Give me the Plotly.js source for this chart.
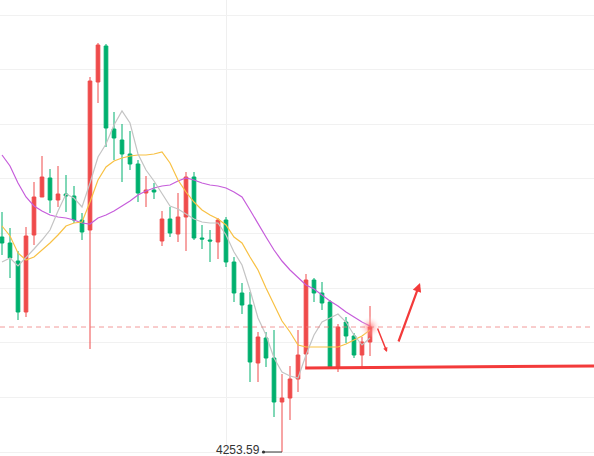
<!DOCTYPE html>
<html>
<head>
<meta charset="utf-8">
<script src="https://cdn.plot.ly/plotly-3.0.1.min.js"></script>
<style>
  html, body { margin: 0; padding: 0; background: #ffffff; }
  #chart { width: 594px; height: 456px; }
</style>
</head>
<body>
<div id="chart"></div>
<script>
// ---- data ----
var idx = [];
for (var k = 0; k < 47; k++) idx.push(k);

var opens  = [4296.59,4295.39,4291.79,4281.59,4296.99,4304.59,4308.39,4303.99,4305.19,4304.79,
              4299.99,4297.99,4327.59,4334.79,4318.19,4315.99,4313.19,4311.19,4305.39,4305.99,
              4295.79,4300.19,4297.19,4300.59,4308.59,4296.39,4295.99,4295.59,4299.99,4291.59,
              4285.39,4282.99,4271.39,4276.39,4272.39,4263.59,4264.39,4268.19,4273.19,4287.99,
              4285.39,4283.59,4270.39,4279.59,4276.79,4272.99,4275.59];
var highs  = [4301.59,4298.39,4293.79,4298.59,4307.59,4312.79,4310.19,4310.79,4308.99,4306.79,
              4301.39,4328.59,4335.39,4335.19,4321.59,4319.19,4317.79,4311.99,4308.79,4307.39,
              4301.79,4302.59,4305.39,4309.59,4309.59,4298.99,4297.99,4300.39,4300.59,4292.59,
              4287.39,4285.59,4277.59,4277.59,4277.99,4269.19,4270.79,4277.99,4289.19,4288.39,
              4287.59,4283.99,4279.19,4280.59,4277.39,4276.59,4282.79];
var lows   = [4292.99,4288.39,4279.99,4280.59,4294.99,4304.59,4301.39,4302.59,4301.59,4299.39,
              4295.99,4274.19,4323.39,4314.59,4311.99,4307.59,4309.99,4303.59,4302.59,4304.19,
              4294.79,4296.59,4295.59,4293.79,4295.99,4294.19,4291.59,4292.19,4290.59,4283.59,
              4281.19,4267.59,4267.59,4270.59,4260.59,4253.59,4259.99,4265.59,4270.59,4283.59,
              4281.99,4270.59,4269.59,4275.39,4272.39,4270.59,4272.79];
var closes = [4295.39,4292.39,4281.59,4296.79,4304.59,4308.59,4303.99,4305.19,4304.79,4299.99,
              4297.59,4327.79,4334.99,4318.39,4316.39,4313.19,4311.19,4305.39,4305.99,4305.59,
              4300.19,4297.39,4300.59,4308.59,4296.39,4296.19,4295.79,4299.99,4291.59,4285.39,
              4282.99,4271.59,4276.59,4272.39,4263.59,4264.39,4268.19,4272.99,4287.99,4285.39,
              4283.39,4270.59,4278.59,4276.79,4272.99,4275.59,4278.59];

var ma5  = [4291.59,4292.39,4290.79,4292.39,4294.19,4295.99,4297.99,4301.79,4305.19,4304.39,
            4302.59,4307.39,4312.59,4315.19,4318.99,4321.79,4319.39,4313.19,4309.99,4307.79,
            4305.19,4302.79,4302.19,4301.19,4300.19,4299.59,4299.39,4299.39,4296.99,4293.59,
            4290.99,4285.99,4280.39,4276.99,4272.39,4269.59,4268.79,4268.39,4272.99,4276.99,
            4279.59,4280.39,4281.19,4279.59,4276.99,4274.99,4276.39];
var ma10 = [4298.79,4296.79,4293.39,4291.99,4292.59,4293.99,4295.39,4296.99,4298.79,4299.39,
            4299.59,4303.59,4307.99,4310.59,4311.79,4312.39,4312.79,4312.99,4312.99,4313.19,
            4313.59,4311.39,4307.99,4305.59,4303.59,4301.99,4300.99,4300.19,4298.99,4296.59,
            4295.39,4292.59,4289.99,4286.39,4282.99,4279.79,4277.59,4274.99,4274.59,4274.59,
            4274.59,4274.59,4274.59,4275.19,4275.99,4276.79,4277.99];
var ma20 = [4312.99,4310.79,4307.39,4304.59,4302.79,4301.79,4300.99,4300.59,4300.39,4299.99,
            4299.39,4299.19,4300.39,4300.99,4301.79,4302.79,4303.79,4304.99,4305.79,4306.39,
            4306.79,4306.99,4307.79,4308.39,4307.99,4307.39,4306.99,4306.79,4306.39,4305.59,
            4304.59,4301.99,4299.19,4296.59,4293.99,4291.79,4289.99,4288.39,4286.99,4286.19,
            4284.99,4283.79,4282.79,4281.59,4280.59,4279.59,4278.79];

var supportLine = {x0: 37.9, x1: 74, y0: 4270.39, y1: 4270.79};
var arrowDown = {fromX: 46.875, fromY: 4278.59, toX: 48.125, toY: 4273.59};
var arrowUp   = {fromX: 49.5,   fromY: 4275.39, toX: 52.25,  toY: 4287.39};

// ---- derived ----
var lastClose = closes[closes.length - 1];
var lowVal = Math.min.apply(null, lows);
var lowIdx = lows.indexOf(lowVal);

var RED = '#ef4b4b', GREEN = '#00b06e';

var traces = [
  {
    type: 'candlestick', x: idx, open: opens, high: highs, low: lows, close: closes,
    increasing: {line: {color: RED, width: 1}, fillcolor: RED},
    decreasing: {line: {color: GREEN, width: 1}, fillcolor: GREEN},
    whiskerwidth: 0, hoverinfo: 'skip', showlegend: false
  },
  {type: 'scatter', mode: 'lines', x: idx, y: ma20, line: {color: '#c65ddb', width: 1.2}, hoverinfo: 'skip', showlegend: false},
  {type: 'scatter', mode: 'lines', x: idx, y: ma10, line: {color: '#f8c144', width: 1.2}, hoverinfo: 'skip', showlegend: false},
  {type: 'scatter', mode: 'lines', x: idx, y: ma5,  line: {color: '#c4c4c4', width: 1.2}, hoverinfo: 'skip', showlegend: false},
  {
    type: 'scatter', mode: 'markers', x: [idx[idx.length - 1]], y: [lastClose],
    marker: {size: 22, color: 'rgba(255,255,255,0)', gradient: {type: 'radial', color: 'rgba(255,80,80,0.7)'}, line: {width: 0}},
    hoverinfo: 'skip', showlegend: false
  }
];

var layout = {
  width: 594, height: 456,
  margin: {l: 0, r: 0, t: 0, b: 0, pad: 0},
  paper_bgcolor: '#ffffff', plot_bgcolor: '#ffffff',
  boxgap: 0.35,
  showlegend: false,
  xaxis: {
    range: [-0.25, 74], rangeslider: {visible: false},
    showticklabels: false, zeroline: false, showline: false,
    tickmode: 'array', tickvals: [28.1], showgrid: true, gridcolor: '#efefef', gridwidth: 1,
    fixedrange: true
  },
  yaxis: {
    range: [4252.79, 4343.99],
    showticklabels: false, zeroline: false, showline: false,
    tick0: 4253.59, dtick: 10.925, showgrid: true, gridcolor: '#f1f1f1', gridwidth: 1,
    fixedrange: true
  },
  shapes: [
    {type: 'line', xref: 'paper', x0: 0, x1: 1, yref: 'y', y0: lastClose, y1: lastClose,
     line: {color: 'rgba(238,120,120,0.75)', width: 1, dash: '5px,4px'}},
    {type: 'line', xref: 'x', yref: 'y', x0: supportLine.x0, x1: supportLine.x1, y0: supportLine.y0, y1: supportLine.y1,
     line: {color: '#f33a3a', width: 3}}
  ],
  annotations: [
    // leader line with dot to the lowest wick
    {x: lowIdx, y: lowVal, xref: 'x', yref: 'y', text: '',
     showarrow: true, ax: -20, ay: 0, arrowhead: 0, arrowwidth: 1, arrowcolor: '#333333',
     arrowside: 'start', startarrowhead: 6, startarrowsize: 0.8, standoff: 0, startstandoff: 0},
    // low value label
    {x: lowIdx, y: lowVal, xref: 'x', yref: 'y', text: lowVal.toFixed(2), showarrow: false,
     xanchor: 'right', xshift: -20, yshift: 2, yanchor: 'middle',
     font: {family: 'Liberation Sans, Arial, sans-serif', size: 12, color: '#333333'}},
    {x: arrowDown.toX, y: arrowDown.toY, ax: arrowDown.fromX, ay: arrowDown.fromY,
     xref: 'x', yref: 'y', axref: 'x', ayref: 'y', text: '', showarrow: true,
     arrowhead: 2, arrowsize: 0.6, arrowwidth: 1.5, arrowcolor: '#f33a3a'},
    {x: arrowUp.toX, y: arrowUp.toY, ax: arrowUp.fromX, ay: arrowUp.fromY,
     xref: 'x', yref: 'y', axref: 'x', ayref: 'y', text: '', showarrow: true,
     arrowhead: 2, arrowsize: 0.8, arrowwidth: 2.2, arrowcolor: '#f33a3a'}
  ]
};

Plotly.newPlot('chart', traces, layout, {staticPlot: true, displayModeBar: false});
</script>
</body>
</html>
